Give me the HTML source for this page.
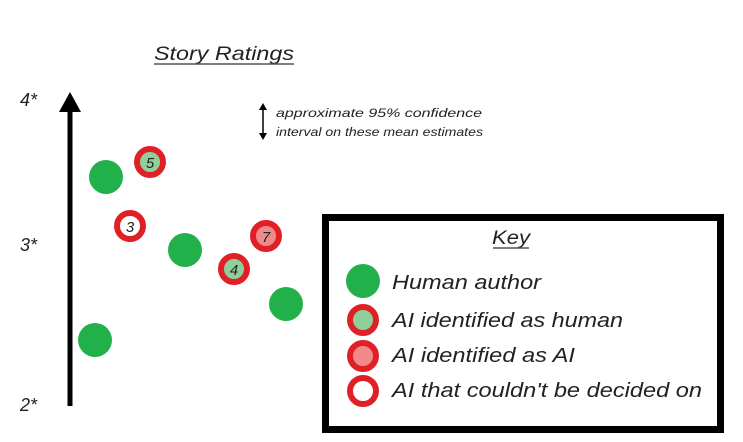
<!DOCTYPE html>
<html><head><meta charset="utf-8"><style>
html,body{margin:0;padding:0;background:#fff;}
svg{display:block}
text{font-family:"Liberation Sans",sans-serif;fill:#222}
</style></head><body>
<svg width="743" height="442" viewBox="0 0 743 442">
<text x="154" y="60" font-size="19" font-style="italic" textLength="140" lengthAdjust="spacingAndGlyphs">Story Ratings</text>
<line x1="154" y1="64" x2="294" y2="64" stroke="#555" stroke-width="1.5"/>
<line x1="70" y1="406" x2="70" y2="108" stroke="#000" stroke-width="5"/>
<polygon points="70,92 59,112 81,112" fill="#000"/>
<text x="20" y="106" font-size="18" font-style="italic">4*</text>
<text x="20" y="251" font-size="18" font-style="italic">3*</text>
<text x="20" y="411" font-size="18" font-style="italic">2*</text>
<line x1="263" y1="108" x2="263" y2="135" stroke="#000" stroke-width="1.5"/>
<polygon points="263,103 259,110 267,110" fill="#000"/>
<polygon points="263,140 259,133 267,133" fill="#000"/>
<text x="276" y="117" font-size="12" font-style="italic" textLength="206" lengthAdjust="spacingAndGlyphs">approximate 95% confidence</text>
<text x="276" y="136" font-size="12" font-style="italic" textLength="207" lengthAdjust="spacingAndGlyphs">interval on these mean estimates</text>
<g fill="#22b04b">
<circle cx="106" cy="177" r="17"/><circle cx="185" cy="250" r="17"/>
<circle cx="286" cy="304" r="17"/><circle cx="95" cy="340" r="17"/>
</g>
<circle cx="150" cy="162" r="13" fill="#8fd09a" stroke="#e02027" stroke-width="6"/>
<circle cx="234" cy="269" r="13" fill="#8fd09a" stroke="#e02027" stroke-width="6"/>
<circle cx="266" cy="236" r="13" fill="#f08a8a" stroke="#e02027" stroke-width="6"/>
<circle cx="130" cy="226" r="13" fill="#fff" stroke="#e02027" stroke-width="6"/>
<g font-size="15" font-style="italic" text-anchor="middle">
<text x="150" y="168">5</text><text x="234" y="275">4</text><text x="266" y="242">7</text><text x="130" y="232">3</text>
</g>
<rect x="325.5" y="217.5" width="395" height="212" fill="#fff" stroke="#000" stroke-width="7"/>
<text x="492" y="244" font-size="19" font-style="italic" textLength="38" lengthAdjust="spacingAndGlyphs">Key</text>
<line x1="493" y1="248" x2="529" y2="248" stroke="#555" stroke-width="1.5"/>
<circle cx="363" cy="281" r="17" fill="#22b04b"/>
<circle cx="363" cy="320" r="13" fill="#8fd09a" stroke="#e02027" stroke-width="6"/>
<circle cx="363" cy="356" r="13" fill="#f08a8a" stroke="#e02027" stroke-width="6"/>
<circle cx="363" cy="391" r="13" fill="#fff" stroke="#e02027" stroke-width="6"/>
<g font-size="20" font-style="italic" lengthAdjust="spacingAndGlyphs">
<text x="392" y="289" textLength="149" lengthAdjust="spacingAndGlyphs">Human author</text>
<text x="392" y="327" textLength="231" lengthAdjust="spacingAndGlyphs">AI identified as human</text>
<text x="392" y="362" textLength="183" lengthAdjust="spacingAndGlyphs">AI identified as AI</text>
<text x="392" y="397" textLength="310" lengthAdjust="spacingAndGlyphs">AI that couldn't be decided on</text>
</g>
</svg>
</body></html>
